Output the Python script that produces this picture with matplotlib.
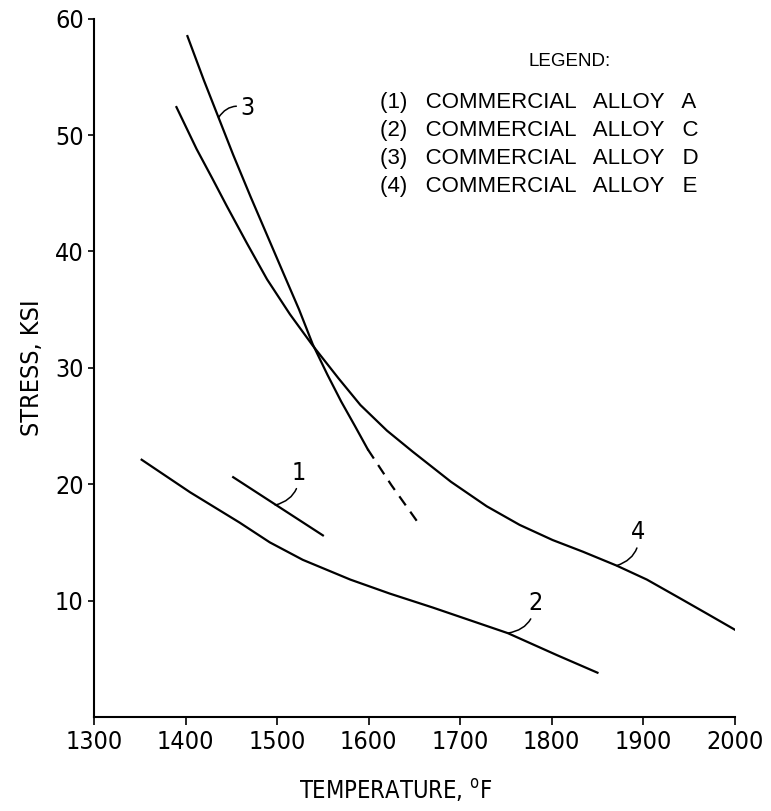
import matplotlib
matplotlib.use("Agg")
import matplotlib.pyplot as plt

plt.rcParams['font.family'] = ['DejaVu Sans']
plt.rcParams['font.stretch'] = 'condensed'

# curve data (temperature F, stress ksi)
alloy_a_t = [1452, 1550]
alloy_a_s = [20.6, 15.6]

alloy_c_t = [1352, 1405, 1459, 1492, 1528, 1580, 1623, 1670, 1752, 1806, 1850]
alloy_c_s = [22.1, 19.3, 16.7, 15.0, 13.5, 11.8, 10.6, 9.4, 7.2, 5.3, 3.8]

alloy_d_t = [1402, 1420, 1436, 1452, 1471, 1489, 1507, 1524, 1539, 1555, 1570, 1585, 1599]
alloy_d_s = [58.5, 54.7, 51.5, 48.3, 44.7, 41.4, 38.1, 35.0, 32.0, 29.4, 27.1, 25.0, 23.0]
alloy_d_ext_t = [1599, 1625, 1653]
alloy_d_ext_s = [23.0, 19.9, 16.8]

alloy_e_t = [1390, 1412, 1429, 1445, 1467, 1489, 1514, 1539, 1567, 1591, 1620, 1648,
             1690, 1729, 1765, 1801, 1834, 1871, 1904, 1940, 1969, 2000]
alloy_e_s = [52.4, 48.8, 46.3, 43.9, 40.7, 37.6, 34.6, 31.9, 29.1, 26.8, 24.6, 22.8,
             20.2, 18.1, 16.5, 15.2, 14.2, 13.0, 11.8, 10.2, 8.9, 7.5]

# curve labels: text, point on curve, label position
tags = ["1", "2", "3", "4"]
tag_on_curve = [(1498, 18.2), (1752, 7.2), (1436, 51.5), (1871, 13.0)]
tag_pos = [(1516, 21.0), (1774, 9.8), (1460, 52.3), (1887, 15.9)]

legend_lines = ["(1)   COMMERCIAL   ALLOY   A",
                "(2)   COMMERCIAL   ALLOY   C",
                "(3)   COMMERCIAL   ALLOY   D",
                "(4)   COMMERCIAL   ALLOY   E"]

x_ticks = [1300, 1400, 1500, 1600, 1700, 1800, 1900, 2000]
y_ticks = [10, 20, 30, 40, 50, 60]

fig = plt.figure(figsize=(7.71, 8.11), dpi=100)
ax = fig.add_axes([0.122, 0.116, 0.831, 0.861])

lw = 1.6
ax.plot(alloy_a_t, alloy_a_s, color='black', lw=lw)
ax.plot(alloy_c_t, alloy_c_s, color='black', lw=lw)
ax.plot(alloy_d_t, alloy_d_s, color='black', lw=lw)
ax.plot(alloy_d_ext_t, alloy_d_ext_s, color='black', lw=lw, dashes=(5, 3.5))
ax.plot(alloy_e_t, alloy_e_s, color='black', lw=lw)

rads = [-0.4, -0.4, 0.4, -0.4]
for tag, on, pos, r in zip(tags, tag_on_curve, tag_pos, rads):
    ax.annotate(tag, xy=on, xytext=pos, fontsize=18, ha='left', va='center',
                arrowprops=dict(arrowstyle='-', color='black', lw=1.1,
                                shrinkA=1, shrinkB=0,
                                connectionstyle='arc3,rad=%.1f' % r))

ax.text(1820, 56.3, "LEGEND:", fontsize=13.5, family='Liberation Sans',
        stretch='normal', ha='center', va='center')
for i, line in enumerate(legend_lines):
    ax.text(1612, 52.8 - i * 2.42, line, fontsize=16, family='Liberation Sans',
            stretch='normal', ha='left', va='center')

ax.set_xlim(1300, 2000)
ax.set_ylim(0, 60)
ax.set_xticks(x_ticks)
ax.set_yticks(y_ticks)
ax.tick_params(labelsize=18, length=6, width=1.2, color='black')
ax.tick_params(axis='y', length=4)
ax.spines['top'].set_visible(False)
ax.spines['right'].set_visible(False)
ax.spines['left'].set_linewidth(1.5)
ax.spines['bottom'].set_linewidth(1.5)

ax.set_xlabel("TEMPERATURE, $^\\mathregular{o}$F", fontsize=17)
ax.xaxis.set_label_coords(0.47, -0.086)
ax.set_ylabel("STRESS, KSI", fontsize=18, labelpad=8)

fig.savefig("out.png", dpi=100)
